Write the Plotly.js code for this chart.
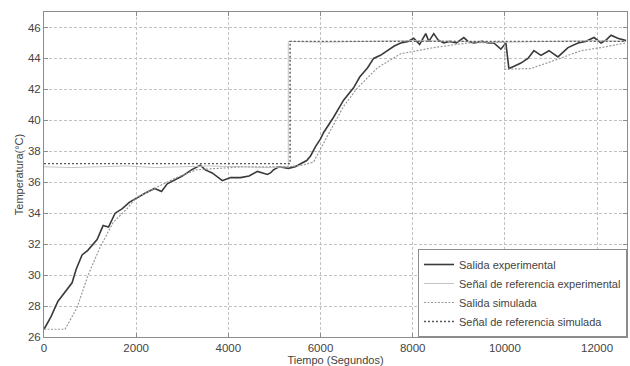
<!DOCTYPE html>
<html>
<head>
<meta charset="utf-8">
<script src="https://cdn.plot.ly/plotly-3.0.1.min.js"></script>
<style>html,body{margin:0;padding:0;background:#fff;}#chart{width:630px;height:366px;}</style>
</head>
<body>
<div id="chart"></div>
<script>
// Salida experimental
const tExp = [0,150,300,450,609,700,826,950,1152,1283,1400,1543,1700,1850,2022,2200,2400,2550,2674,2800,3000,3200,3391,3500,3650,3870,4050,4261,4450,4630,4848,4913,4978,5100,5304,5450,5565,5700,5783,5891,6000,6065,6283,6500,6717,6850,7022,7152,7300,7457,7600,7739,7900,8022,8150,8283,8350,8457,8550,8674,8800,8950,9109,9200,9326,9500,9650,9761,9913,10022,10087,10200,10348,10500,10630,10783,10957,11152,11250,11370,11587,11750,11935,12087,12200,12304,12450,12630];
const yExp = [26.5,27.3,28.3,28.9,29.5,30.4,31.3,31.6,32.3,33.2,33.1,34.0,34.3,34.7,35.0,35.3,35.6,35.4,35.9,36.1,36.4,36.8,37.1,36.8,36.6,36.1,36.3,36.3,36.4,36.7,36.5,36.6,36.8,37.0,36.9,37.0,37.2,37.4,37.7,38.3,38.8,39.2,40.2,41.3,42.1,42.8,43.4,44.0,44.2,44.5,44.8,45.0,45.1,45.3,44.9,45.6,45.1,45.6,45.2,45.0,45.1,45.0,45.35,45.1,45.0,45.1,45.0,45.0,44.6,45.0,43.35,43.5,43.7,44.0,44.5,44.2,44.5,44.1,44.4,44.7,45.0,45.1,45.35,45.0,45.2,45.5,45.3,45.15];

// Señal de referencia experimental
const tRefExp = [0,600,1200,1800,2400,3000,3600,4200,4800,5300,5300,6000,7000,8000,9000,10000,11000,12000,12630];
const yRefExp = [37.0,36.95,37.0,37.05,36.95,37.0,37.05,37.0,36.95,37.0,45.1,45.05,45.1,45.15,45.1,45.05,45.1,45.15,45.1];

// Salida simulada
const tSim = [0,457,717,957,1217,1500,1804,2000,2400,2800,3300,3800,4300,4800,5300,5600,5848,6152,6500,6804,7239,7739,8457,9196,10000,10000,10565,11100,11652,12087,12630];
const ySim = [26.5,26.5,27.9,30.0,31.8,33.4,34.3,35.0,35.6,36.2,36.8,36.9,37.0,37.0,37.0,37.1,37.3,39.0,40.9,42.1,43.4,44.3,44.7,45.0,45.05,43.3,43.35,43.9,44.5,44.7,45.0];

// Señal de referencia simulada
const tRefSim = [0,5340,5340,12630];
const yRefSim = [37.2,37.2,45.1,45.1];

const names = ['Salida experimental','Señal de referencia experimental','Salida simulada','Señal de referencia simulada'];
const xTicks = [0,2000,4000,6000,8000,10000,12000];
const yTicks = [26,28,30,32,34,36,38,40,42,44,46];

const traces = [
  {x:tExp,y:yExp,name:names[0],mode:'lines',line:{color:'#3a3a3a',width:1.6}},
  {x:tRefExp,y:yRefExp,name:names[1],mode:'lines',line:{color:'#c4c4c4',width:1}},
  {x:tSim,y:ySim,name:names[2],mode:'lines',line:{color:'#9a9a9a',width:1.2,dash:'2px,1.5px'}},
  {x:tRefSim,y:yRefSim,name:names[3],mode:'lines',line:{color:'#5a5a5a',width:1.4,dash:'2px,2px'}}
];

const font = 'Liberation Sans, Arial, sans-serif';
const axisCommon = {
  showline:true, mirror:'ticks', linecolor:'#8c8c8c', linewidth:1,
  showgrid:true, gridcolor:'#c2c2c2', griddash:'3px,2px', gridwidth:1,
  ticks:'inside', ticklen:4, tickcolor:'#8c8c8c',
  zeroline:false,
  tickfont:{family:font,size:11.5,color:'#444'}
};

const layout = {
  width:630, height:366,
  margin:{l:44,r:3,t:12,b:29},
  paper_bgcolor:'#fff', plot_bgcolor:'#fff',
  showlegend:true,
  legend:{x:1,y:0,xanchor:'right',yanchor:'bottom',bgcolor:'#fff',bordercolor:'#8c8c8c',borderwidth:1,
    font:{family:font,size:11,color:'#444'},tracegroupgap:0,itemwidth:30},
  xaxis:Object.assign({},axisCommon,{range:[0,12650],tickvals:xTicks,ticktext:xTicks.map(String),
    title:{text:'Tiempo (Segundos)',standoff:2,font:{family:font,size:11,color:'#444'}}}),
  yaxis:Object.assign({},axisCommon,{range:[26,47],tickvals:yTicks,ticktext:yTicks.map(String),
    title:{text:'Temperatura(°C)',standoff:2,font:{family:font,size:11,color:'#444'}}})
};

Plotly.newPlot('chart',traces,layout,{staticPlot:true,displayModeBar:false});
</script>
</body>
</html>
